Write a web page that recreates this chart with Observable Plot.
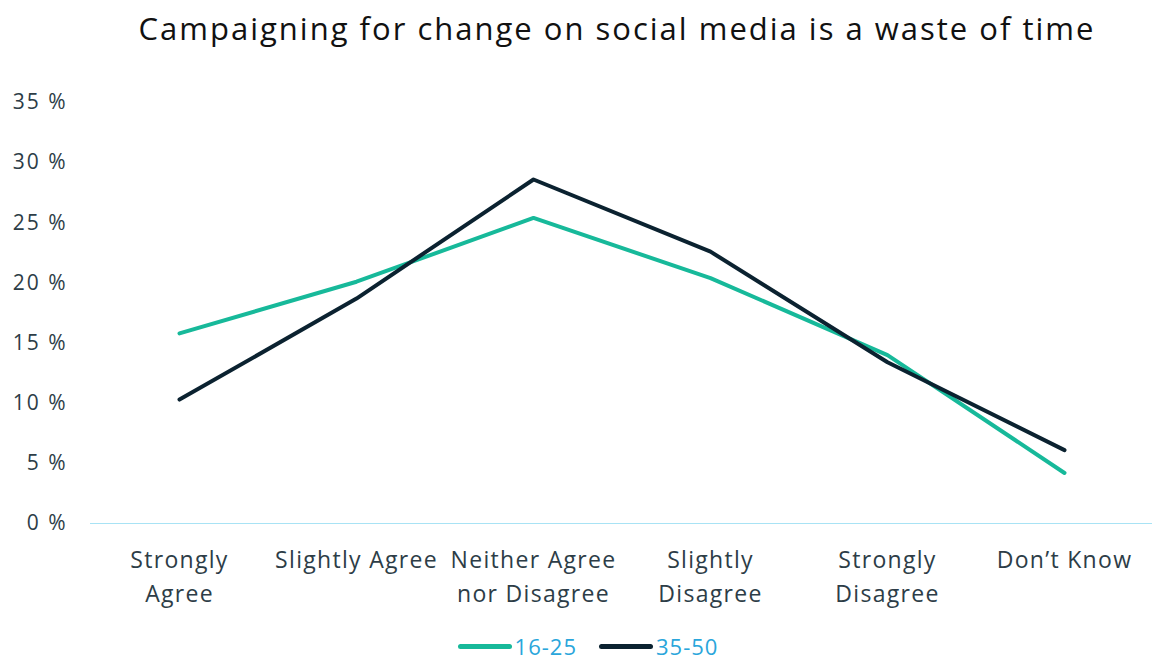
<!DOCTYPE html>
<html>
<head>
<meta charset="utf-8">
<script src="https://cdn.jsdelivr.net/npm/d3@7"></script>
<script src="https://cdn.jsdelivr.net/npm/@observablehq/plot@0.6"></script>
<style>
  html, body { margin: 0; background: #fff; font-family: "Open Sans", sans-serif; overflow: hidden; }
  #title { height: 60px; line-height: 56px; text-align: center; font-size: 31px; color: #111; letter-spacing: 2px; padding-left: 78px; white-space: nowrap; }
  #legend { position: absolute; left: 0; width: 1156px; top: 632px; display: flex; justify-content: center; align-items: center; height: 28px; line-height: 28px; font-size: 22px; color: #2aa6db; padding-left: 20px; letter-spacing: 1px; box-sizing: border-box; }
  .item { display: flex; align-items: center; margin: 0 11px; }
  .swatch { width: 54px; height: 5px; border-radius: 3px; margin-right: 3px; }
  #chart svg [aria-label="y-axis tick label"] { letter-spacing: 2px; }
  #chart svg [aria-label="x-axis tick label"] { letter-spacing: 1.3px; }
</style>
</head>
<body>
<div id="title">Campaigning for change on social media is a waste of time</div>
<div id="chart"></div>
<div id="legend"></div>
<script>
const categories = ["Strongly\nAgree", "Slightly Agree", "Neither Agree\nnor Disagree", "Slightly\nDisagree", "Strongly\nDisagree", "Don\u2019t Know"];
const seriesNames = ["16-25", "35-50"];
const values1625 = [15.8, 20.1, 25.4, 20.4, 14.0, 4.2];
const values3550 = [10.3, 18.7, 28.6, 22.6, 13.4, 6.1];
const colors = ["#17b99a", "#0b2230"];
const yTicks = [0, 5, 10, 15, 20, 25, 30, 35];

const rows = [];
categories.forEach((c, i) => {
  rows.push({cat: c, value: values1625[i], series: seriesNames[0]});
  rows.push({cat: c, value: values3550[i], series: seriesNames[1]});
});

const plot = Plot.plot({
  width: 1156,
  height: 560,
  marginTop: 42,
  marginBottom: 97,
  marginLeft: 90,
  marginRight: 4,
  style: {fontFamily: "'Open Sans', sans-serif", color: "#2d3d47", background: "#fff"},
  x: {type: "point", domain: categories, padding: 0.5, label: null},
  y: {domain: [0, 35], label: null},
  color: {domain: seriesNames, range: colors},
  marks: [
    Plot.ruleY([0], {stroke: "#a8e3f5", strokeWidth: 1.2}),
    Plot.axisY({ticks: yTicks, tickSize: 0, tickPadding: 23, fontSize: 21, tickFormat: d => d + " %", label: null, fill: "#2d3d47"}),
    Plot.axisX({tickSize: 0, tickPadding: 21, fontSize: 23, lineHeight: 1.45, label: null, fill: "#2d3d47"}),
    Plot.line(rows, {x: "cat", y: "value", z: "series", stroke: "series", strokeWidth: 4, strokeLinecap: "round", strokeLinejoin: "round"})
  ]
});
document.getElementById("chart").appendChild(plot);

const legend = document.getElementById("legend");
seriesNames.forEach((s, i) => {
  const item = document.createElement("div");
  item.className = "item";
  const sw = document.createElement("div");
  sw.className = "swatch";
  sw.style.background = colors[i];
  const t = document.createElement("span");
  t.textContent = s;
  item.appendChild(sw); item.appendChild(t);
  legend.appendChild(item);
});
</script>
</body>
</html>
